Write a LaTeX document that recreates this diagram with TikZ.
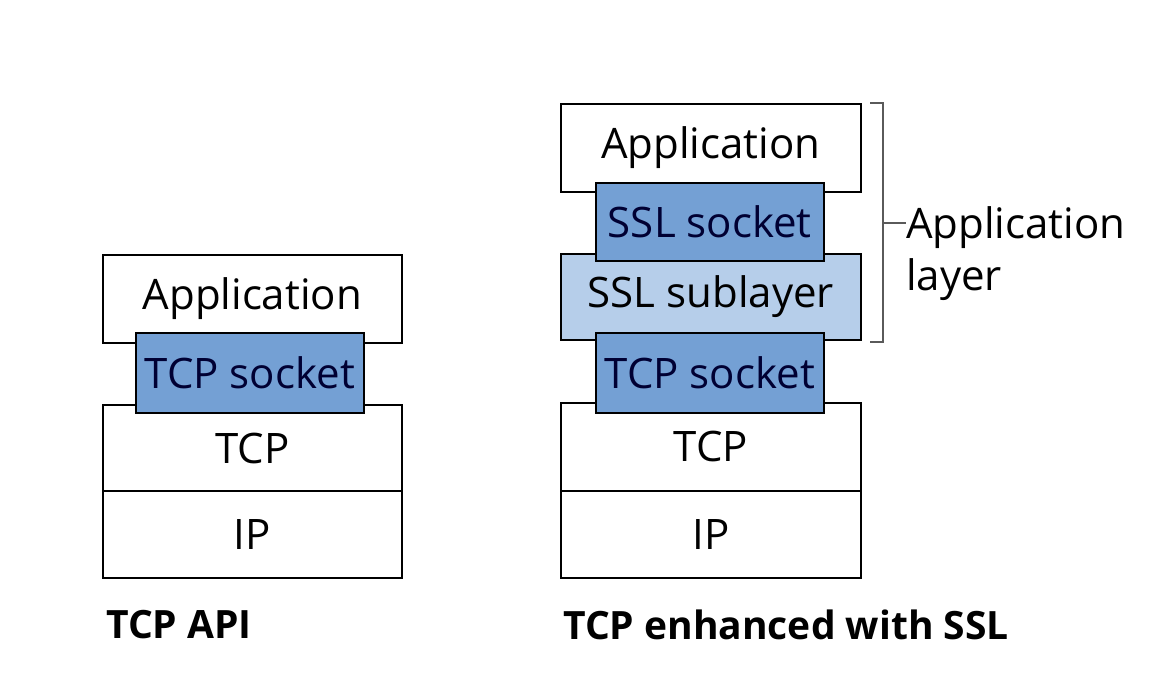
\documentclass[tikz,border=0pt]{standalone}
\usepackage{fontspec}
\setmainfont{Open Sans}
\definecolor{sockblue}{RGB}{116,160,212}
\definecolor{sublblue}{RGB}{182,206,234}
\definecolor{brkgray}{RGB}{90,90,90}
\begin{document}
\begin{tikzpicture}[x=1pt,y=-1pt,
  layerbox/.style={draw=black, line width=1.6pt, fill=white, anchor=north west, inner sep=0pt,
    font=\fontsize{42}{50}\selectfont, text=black},
  sockbox/.style={layerbox, fill=sockblue, text=black!80!blue},
  sublbox/.style={layerbox, fill=sublblue},
  caption/.style={anchor=west, inner sep=0pt, font=\fontsize{39}{46}\selectfont\bfseries},
  brk/.style={draw=brkgray, line width=1.2pt}]
\useasboundingbox (0,0) rectangle (1158,686);
% left stack
\node[layerbox, minimum width=299pt, minimum height=88pt] (lapp) at (102,254) {Application};
\node[layerbox, minimum width=299pt, minimum height=87pt] (ltcp) at (102,404) {TCP};
\node[layerbox, minimum width=299pt, minimum height=87pt] (lip) at (102,490) {IP};
\node[sockbox, minimum width=228pt, minimum height=80pt] (lsock) at (135,332) {TCP socket};
% right stack
\node[layerbox, minimum width=300pt, minimum height=88pt] (rapp) at (560,103) {Application};
\node[sublbox, minimum width=300pt, minimum height=86pt] (rsub) at (560,253) {SSL sublayer};
\node[sockbox, minimum width=228pt, minimum height=78pt] (rssl) at (595,182) {SSL socket};
\node[layerbox, minimum width=300pt, minimum height=88pt] (rtcp) at (560,402) {TCP};
\node[layerbox, minimum width=300pt, minimum height=87pt] (rip) at (560,490) {IP};
\node[sockbox, minimum width=228pt, minimum height=80pt] (rsock) at (595,332) {TCP socket};
% bracket
\coordinate (btop) at (870,103);
\coordinate (bbot) at (870,342);
\coordinate (bmid) at (883,223);
\node[anchor=west, inner sep=0pt, align=left, font=\fontsize{42}{52}\selectfont] (albl) at (906,254) {Application\\layer};
\draw[brk] (btop) -- (btop -| bmid) -- (bbot -| bmid) -- (bbot);
\draw[brk] (bmid) -- (albl.west |- bmid);
% captions
\node[caption] (cap1) at (106,625) {TCP API};
\node[caption] (cap2) at (563,625) {TCP enhanced with SSL};
\end{tikzpicture}
\end{document}
